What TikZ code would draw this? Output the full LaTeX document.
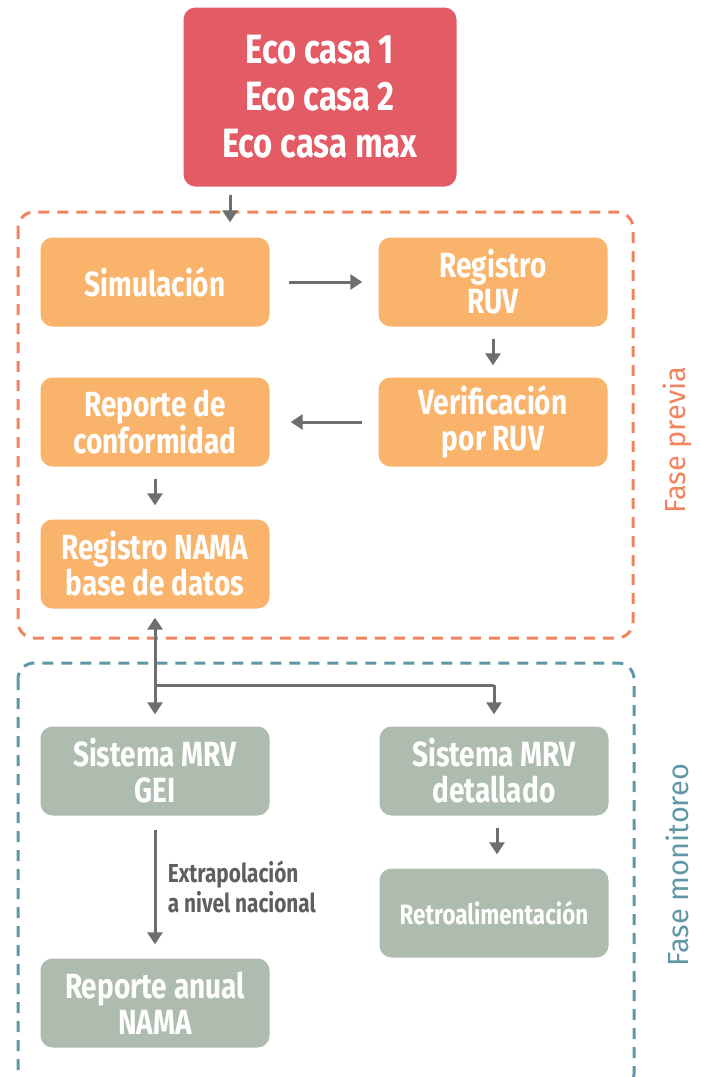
\documentclass[tikz,border=0pt]{standalone}
\usepackage{fontspec}
\setmainfont{Fira Sans}
\newfontfamily\boxfont[FakeStretch=0.8]{Fira Sans}
\usetikzlibrary{arrows.meta}
\definecolor{coral}{HTML}{E35C65}
\definecolor{apricot}{HTML}{F9B36B}
\definecolor{salmon}{HTML}{F0845F}
\definecolor{sage}{HTML}{ADBCAF}
\definecolor{steel}{HTML}{5F97A6}
\definecolor{slate}{HTML}{6D6E71}
\tikzset{
  stepbox/.style={rounded corners=12pt,minimum width=229pt,minimum height=89pt,inner sep=0pt,
    text=white,align=center,font=\boxfont\bfseries\fontsize{35}{36}\selectfont},
  prevbox/.style={stepbox,fill=apricot},
  monbox/.style={stepbox,fill=sage},
  phasebox/.style={rounded corners=16pt,line width=3pt,dash pattern=on 11pt off 8pt},
  arr/.style={draw=slate,line width=3pt,-{Triangle[length=12pt,width=15pt]}},
  phaselabel/.style={rotate=90,font=\fontsize{29}{33}\selectfont}
}
\begin{document}
\begin{tikzpicture}[x=1pt,y=-1pt]
\useasboundingbox (0,0) rectangle (701,1077);
% fases
\draw[phasebox,salmon] (18,212) rectangle (633,638);
\draw[phasebox,steel] (18,663) rectangle (634,1090);
\node[phaselabel,text=salmon] (previa) at (677,440) {Fase previa};
\node[phaselabel,text=steel] (monitoreo) at (677,865) {Fase monitoreo};
% cajas
\node[rounded corners=12pt,fill=coral,minimum width=273pt,minimum height=179pt,inner sep=0pt,
  text=white,align=center,font=\boxfont\bfseries\fontsize{41}{47}\selectfont] (eco) at (320,97)
  {Eco casa 1\\Eco casa 2\\Eco casa max};
\node[prevbox] (sim) at (155,282) {Simulación};
\node[prevbox] (ruv) at (493,282) {Registro\\RUV};
\node[prevbox] (verif) at (493,422) {Verificación\\por RUV};
\node[prevbox] (conf) at (155,422) {Reporte de\\conformidad};
\node[prevbox] (nama) at (155,564) {Registro NAMA\\base de datos};
\node[monbox] (gei) at (155,771) {Sistema MRV\\GEI};
\node[monbox] (det) at (494,771) {Sistema MRV\\detallado};
\node[monbox,font=\boxfont\bfseries\fontsize{28}{32}\selectfont] (retro) at (494,913) {Retroalimentación};
\node[monbox] (anual) at (155,1003) {Reporte anual\\NAMA};
% flechas
\draw[arr,shorten <=8pt,shorten >=15pt] (eco.south -| 230,0) -- (sim.north -| 230,0);
\draw[arr,shorten <=19pt,shorten >=16pt] (sim) -- (ruv);
\draw[arr,shorten <=12pt,shorten >=12pt] (ruv) -- (verif);
\draw[arr,shorten <=16pt,shorten >=21pt] (verif.west) -- (conf.east);
\draw[arr,shorten <=12pt,shorten >=14pt] (conf) -- (nama);
\draw[arr,{Triangle[length=12pt,width=15pt]}-{Triangle[length=12pt,width=15pt]},shorten <=9pt,shorten >=12pt] (nama) -- (gei);
\coordinate (split) at (155,685);
\draw[draw=slate,line width=3pt] (split) -- (split -| det);
\draw[arr,shorten >=12pt] (split -| det) -- (det);
\draw[arr,shorten <=14pt,shorten >=14pt] (gei) -- (anual)
  node[midway,right=8pt,align=left,text=slate!85!black,font=\boxfont\bfseries\fontsize{26}{30}\selectfont] (extra)
  {Extrapolación\\a nivel nacional};
\draw[arr,shorten <=12pt,shorten >=14pt] ([xshift=3pt]det.south) -- ([xshift=3pt]retro.north);
\end{tikzpicture}
\end{document}
